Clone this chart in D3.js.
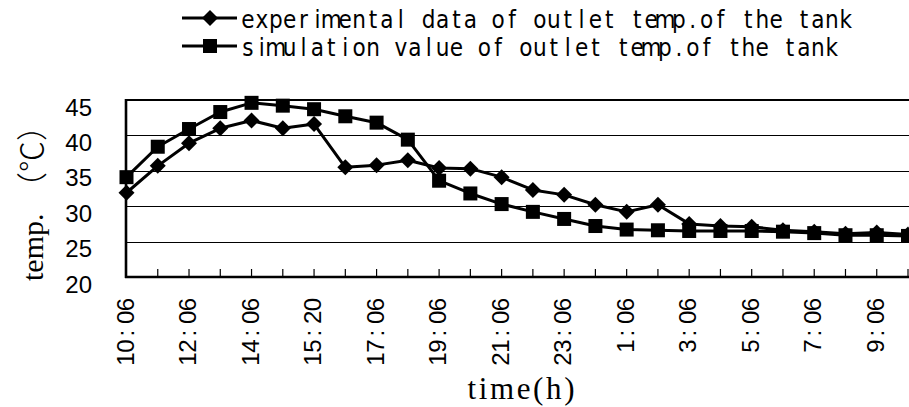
<!DOCTYPE html>
<html><head><meta charset="utf-8">
<script src="https://cdn.jsdelivr.net/npm/d3@7"></script>
<style>html,body{margin:0;padding:0;background:#fff;}svg{display:block;}</style>
</head><body>
<svg id="chart" width="909" height="407"></svg>
<script>
const categories = ["10:06","11:06","12:06","13:06","14:06","14:40","15:20","16:06","17:06","18:06","19:06","20:06","21:06","22:06","23:06","0:06","1:06","2:06","3:06","4:06","5:06","6:06","7:06","8:06","9:06","10:06"];
const labelEvery = 2;
const experimental = [31.9,35.7,38.9,41.0,42.1,41.0,41.6,35.5,35.8,36.5,35.4,35.3,34.1,32.3,31.6,30.2,29.2,30.2,27.5,27.2,27.1,26.6,26.4,26.1,26.3,26.0];
const simulation = [34.1,38.4,40.9,43.3,44.6,44.2,43.7,42.7,41.8,39.4,33.6,31.8,30.3,29.2,28.2,27.2,26.7,26.6,26.5,26.5,26.5,26.4,26.2,25.9,25.9,25.8];
const yTicks = [20,25,30,35,40,45];
const seriesNames = ["experimental data of outlet temp.of the tank","simulation value of outlet temp.of the tank"];
const yTitleParts = ["temp.", "（℃）"];
const xTitle = "time(h)";

const svg = d3.select("#chart");
const L = 126, R = 908, T = 100, B = 277;
const x = d3.scalePoint().domain(d3.range(categories.length)).range([L + 0.5, R]);
const y = d3.scaleLinear().domain([20,45]).range([B, T]);

// gridlines
svg.append("g").selectAll("line").data(yTicks.filter(v => v > 20 && v < 45)).join("line")
  .attr("x1", L).attr("x2", 909).attr("y1", d => Math.round(y(d)) + 0.5).attr("y2", d => Math.round(y(d)) + 0.5)
  .attr("stroke", "#000").attr("stroke-width", 1.2);

// frame
svg.append("line").attr("x1", L).attr("x2", 912).attr("y1", T).attr("y2", T).attr("stroke", "#000").attr("stroke-width", 2.2);
svg.append("line").attr("x1", L - 1).attr("x2", 912).attr("y1", B).attr("y2", B).attr("stroke", "#000").attr("stroke-width", 2.6);
svg.append("line").attr("x1", L).attr("x2", L).attr("y1", T - 1).attr("y2", B + 1).attr("stroke", "#000").attr("stroke-width", 2.6);

// ticks (inside, upward)
svg.append("g").selectAll("line").data(d3.range(1, categories.length)).join("line")
  .attr("x1", d => x(d)).attr("x2", d => x(d)).attr("y1", B).attr("y2", B - 8)
  .attr("stroke", "#000").attr("stroke-width", 1.2);

// y tick labels
svg.append("g").selectAll("text").data(yTicks).join("text")
  .attr("x", 92).attr("y", d => y(d) + 7).attr("text-anchor", "end").attr("dominant-baseline", "central")
  .attr("font-family", "Liberation Sans, Arial, sans-serif").attr("font-size", 24).text(d => d);

// x tick labels (rotated, monospaced pitch, gap after colon)
const xl = svg.append("g");
d3.range(0, categories.length, labelEvery).forEach(i => {
  const s = categories[i];
  const pitch = 12.9;
  const t = xl.append("text")
    .attr("transform", `translate(${x(i) + 7},298) rotate(-90)`)
    .attr("font-family", "Liberation Sans, Arial, sans-serif").attr("font-size", 24)
    .attr("text-anchor", "middle");
  const n = s.length;
  const ci = s.indexOf(":");
  const pos = d3.range(n).map(k => {
    let p = -(n - 1 - k) * pitch - pitch / 2;
    if (k <= ci) p -= 3;
    return p;
  });
  t.attr("x", pos.join(" ")).attr("y", 0).text(s);
});

// y axis title
const yt = svg.append("text").attr("transform", "translate(43,281) rotate(-90)")
  .attr("font-family", "Liberation Serif, 'Noto Sans CJK SC', serif").attr("font-size", 30);
yt.append("tspan").attr("x", 0).attr("y", 0).text(yTitleParts[0]);
yt.append("tspan").attr("x", 78).attr("y", 0).attr("font-size", 31)
  .attr("font-family", "'Noto Sans CJK SC', serif").attr("font-weight", 300).text(yTitleParts[1]);

// x axis title
svg.append("text").attr("x", 521).attr("y", 399)
  .attr("text-anchor", "middle").attr("font-family", "Liberation Serif, serif").attr("font-size", 31)
  .attr("textLength", 107).attr("lengthAdjust", "spacing").text(xTitle);

// series lines
const line = d3.line().x((d, i) => x(i)).y(d => y(d));
[experimental, simulation].forEach(s => {
  svg.append("path").datum(s).attr("d", line).attr("fill", "none").attr("stroke", "#000").attr("stroke-width", 3).attr("stroke-linejoin", "round");
});

const diamond = (cx, cy, r) => `M${cx},${cy - r}L${cx + r},${cy}L${cx},${cy + r}L${cx - r},${cy}Z`;
svg.append("g").selectAll("path").data(experimental).join("path")
  .attr("d", (d, i) => diamond(x(i), y(d), 8)).attr("fill", "#000");
svg.append("g").selectAll("rect").data(simulation).join("rect")
  .attr("x", (d, i) => x(i) - 7).attr("y", d => y(d) - 7).attr("width", 14).attr("height", 14).attr("fill", "#000");

// legend
const legY = [18, 46];
const pitchL = 13.9;
seriesNames.forEach((name, k) => {
  const ly = legY[k];
  svg.append("line").attr("x1", 182).attr("x2", 237).attr("y1", ly).attr("y2", ly).attr("stroke", "#000").attr("stroke-width", 3);
  if (k === 0) svg.append("path").attr("d", diamond(210, ly, 8)).attr("fill", "#000");
  else svg.append("rect").attr("x", 203).attr("y", ly - 7).attr("width", 14).attr("height", 14).attr("fill", "#000");
  svg.append("text")
    .attr("x", d3.range(name.length).map(j => 241 + j * pitchL + pitchL / 2).join(" "))
    .attr("y", ly + 10)
    .attr("text-anchor", "middle")
    .attr("font-family", "'Liberation Sans Narrow', 'DejaVu Sans Condensed', sans-serif")
    .attr("font-size", 24).text(name);
});
</script>
</body></html>
